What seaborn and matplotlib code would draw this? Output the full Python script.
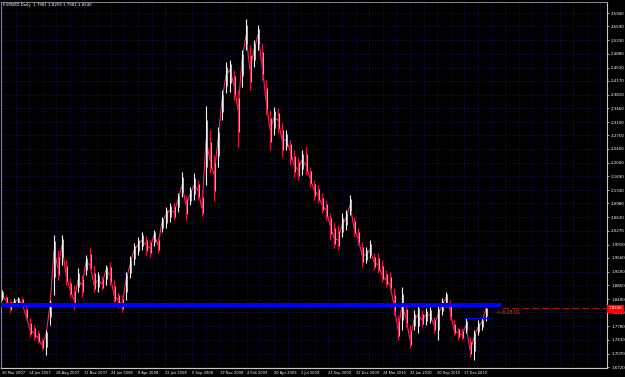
import numpy as np
import pandas as pd
import matplotlib
matplotlib.use("Agg")
import matplotlib.pyplot as plt
import seaborn as sns

# ---------------- data ----------------
chart_title = "EURNZD,Daily  1.7981 1.8259 1.7981 1.8246"
bar_step = 8  # bars between samples

high = [1.8726, 1.8595, 1.8465, 1.8517, 1.8543, 1.8543, 1.8335, 1.7996, 1.7814, 1.7684,
        1.7475, 1.7684, 1.8465, 2.0158, 1.9767, 2.0158, 1.9507, 1.9038, 1.8856, 1.9298,
        1.9116, 1.9637, 1.9845, 1.9377, 1.9194, 1.9090, 1.9377, 1.9455, 1.8986, 1.8673,
        1.8595, 1.9194, 1.9611, 1.9950, 2.0106, 2.0236, 2.0132, 2.0028, 2.0288, 2.0106,
        2.0627, 2.0887, 2.0992, 2.0992, 2.1252, 2.1799, 2.1200, 2.1408, 2.1773, 2.1591,
        2.1330, 2.3518, 2.2893, 2.2242, 2.2971, 2.3935, 2.4664, 2.4716, 2.4455, 2.3935,
        2.4976, 2.5784, 2.5107, 2.5237, 2.5627, 2.5159, 2.4195, 2.3414, 2.3492, 2.3466,
        2.3075, 2.2893, 2.2632, 2.2372, 2.2190, 2.2372, 2.2476, 2.1929, 2.1591, 2.1460,
        2.1252, 2.1070, 2.0731, 2.0497, 2.0418, 2.0731, 2.0809, 2.1200, 2.0627, 2.0340,
        1.9976, 1.9845, 2.0028, 1.9689, 1.9689, 1.9507, 1.9246, 1.9194, 1.8778, 1.8074,
        1.8804, 1.8387, 1.7814, 1.8205, 1.8387, 1.8205, 1.8257, 1.8283, 1.8022, 1.8335,
        1.8517, 1.8673, 1.8465, 1.7944, 1.7762, 1.7736, 1.7996, 1.7501, 1.7684, 1.7944,
        1.7996, 1.8259]
low = [1.8465, 1.8387, 1.8127, 1.8309, 1.8335, 1.8309, 1.7944, 1.7501, 1.7423, 1.7345,
       1.7163, 1.7033, 1.7814, 1.8595, 1.8986, 1.9377, 1.8856, 1.8543, 1.8205, 1.8673,
       1.8543, 1.9116, 1.9246, 1.8673, 1.8673, 1.8726, 1.8856, 1.8856, 1.8335, 1.8257,
       1.8153, 1.8465, 1.9038, 1.9377, 1.9637, 1.9767, 1.9637, 1.9585, 1.9872, 1.9689,
       2.0236, 2.0340, 2.0497, 2.0549, 2.0757, 2.1148, 2.0549, 2.0939, 2.1070, 2.1070,
       2.0653, 2.1460, 2.1773, 2.1044, 2.1929, 2.3153, 2.3856, 2.3882, 2.3674, 2.2450,
       2.4013, 2.4976, 2.3935, 2.4534, 2.4976, 2.4195, 2.3283, 2.2372, 2.2763, 2.2815,
       2.2190, 2.2372, 2.1981, 2.1669, 2.1591, 2.1721, 2.1721, 2.1408, 2.1070, 2.0992,
       2.0731, 2.0549, 2.0028, 1.9819, 1.9767, 2.0106, 2.0288, 2.0679, 2.0106, 1.9898,
       1.9325, 1.9429, 1.9559, 1.9246, 1.9168, 1.8934, 1.8804, 1.8726, 1.8074, 1.7423,
       1.7684, 1.7762, 1.7215, 1.7684, 1.7606, 1.7762, 1.7814, 1.7866, 1.7606, 1.7423,
       1.8074, 1.8283, 1.7944, 1.7554, 1.7423, 1.7423, 1.7606, 1.6980, 1.6902, 1.7554,
       1.7684, 1.7930]
close = [1.8569, 1.8465, 1.8335, 1.8413, 1.8465, 1.8387, 1.8048, 1.7684, 1.7606, 1.7475,
         1.7293, 1.7554, 1.8335, 1.9767, 1.9298, 1.9898, 1.9116, 1.8726, 1.8465, 1.8986,
         1.8856, 1.9455, 1.9377, 1.8856, 1.8986, 1.8882, 1.9246, 1.9116, 1.8595, 1.8465,
         1.8335, 1.8986, 1.9377, 1.9767, 1.9898, 2.0028, 1.9898, 1.9819, 2.0158, 1.9898,
         2.0497, 2.0679, 2.0809, 2.0757, 2.1070, 2.1460, 2.0939, 2.1200, 2.1460, 2.1330,
         2.0861, 2.2632, 2.2111, 2.1721, 2.2632, 2.3674, 2.4325, 2.4455, 2.4065, 2.3414,
         2.4716, 2.5367, 2.4455, 2.4976, 2.5367, 2.4586, 2.3674, 2.2893, 2.3205, 2.3153,
         2.2632, 2.2632, 2.2372, 2.1981, 2.1851, 2.2111, 2.1981, 2.1643, 2.1330, 2.1200,
         2.0939, 2.0809, 2.0418, 2.0080, 2.0028, 2.0418, 2.0601, 2.0939, 2.0340, 2.0080,
         1.9637, 1.9637, 1.9767, 1.9455, 1.9377, 1.9116, 1.8986, 1.8856, 1.8335, 1.7684,
         1.8335, 1.7996, 1.7423, 1.7944, 1.8074, 1.7944, 1.8074, 1.8074, 1.7814, 1.8074,
         1.8335, 1.8517, 1.8205, 1.7684, 1.7606, 1.7554, 1.7814, 1.7163, 1.7475, 1.7762,
         1.7892, 1.8246]

date_labels = ["30 Mar 2007", "14 Jun 2007", "28 Aug 2007", "11 Nov 2007", "24 Jan 2008",
               "8 Apr 2008", "22 Jun 2008", "5 Sep 2008", "19 Nov 2008", "4 Feb 2009",
               "20 Apr 2009", "3 Jul 2009", "23 Sep 2009", "22 Dec 2009", "24 Mar 2010",
               "22 Jun 2010", "20 Sep 2010", "17 Dec 2010"]
bars_per_date_label = 54.4

price_labels = ["2.5940", "2.5590", "2.5230", "2.4880", "2.4520", "2.4170", "2.3810",
                "2.3460", "2.3100", "2.2750", "2.2400", "2.2040", "2.1690", "2.1330",
                "2.0980", "2.0620", "2.0270", "1.9910", "1.9560", "1.9200", "1.8850",
                "1.8490", "1.8140", "1.7780", "1.7430", "1.7070", "1.6720"]

support_level = 1.8322
support_end_bar = 1000
range_level = 1.7996
range_start_bar = 926
range_end_bar = 974
bid_price = 1.8246
bid_label = "1.8246"
timer_text = "<--8:28:01"
timer_bar = 986

# ---------------- figure ----------------
sns.set_style("dark")
plt.rcParams['font.family'] = ['DejaVu Sans']

W, H = 625, 377
fig = plt.figure(figsize=(W / 100, H / 100), dpi=100, facecolor="black")
ax = fig.add_axes([1 / W, (H - 368) / H, 606 / W, 366 / H])
ax.set_facecolor("black")

n = len(close)
bars = np.arange(n) * bar_step
df = pd.DataFrame({"bar": bars, "high": high, "low": low, "close": close})
df["open"] = df["close"].shift(1).fillna(df["close"])
df["dir"] = np.where(df["close"] >= df["open"], "up", "down")

xlim = (-2, 1210)
ylim = (1.6694, 2.6227)
ax.set_xlim(*xlim)
ax.set_ylim(*ylim)

grid_col = "#1a1a80"
xgrid = np.arange(0, xlim[1], bars_per_date_label / 2)
for gx in xgrid:
    ax.axvline(gx, color=grid_col, lw=0.6, ls=(0, (1, 2.5)), zorder=0)
price_vals = [float(p) for p in price_labels]
for gy in price_vals:
    ax.axhline(gy, color=grid_col, lw=0.6, ls=(0, (1, 2.5)), zorder=0)

# bars
up = df[df["dir"] == "up"]
dn = df[df["dir"] == "down"]
sns.lineplot(data=df, x="bar", y="close", ax=ax, color="#e8305a", lw=0.8, zorder=2,
             legend=False)
ax.vlines(dn["bar"], dn["low"], dn["high"], color="#e0143c", lw=0.9, zorder=3)
ax.vlines(up["bar"], up["low"], up["high"], color="#f2f2f2", lw=0.8, zorder=3)
ax.vlines(df["bar"] + 2, df["close"] - (df["close"] - df["low"]) * 0.6,
          df["close"] + (df["high"] - df["close"]) * 0.6, color="#f7a0b4", lw=0.7, zorder=3)

# bid line (visible right of the support band)
ax.hlines(bid_price, support_end_bar, xlim[1], color="#a01818", lw=0.8, ls=(0, (6, 3)),
          zorder=4)
# support line (thick blue)
ax.hlines(support_level, xlim[0], support_end_bar, color="#0000ff", lw=2.9, zorder=5)
ax.hlines(range_level, range_start_bar, range_end_bar, color="#0000ff", lw=0.9, zorder=5)

ax.text(timer_bar, bid_price - 0.0095, timer_text, color="#c0602a", fontsize=3.3,
        ha="left", va="center", zorder=6)

# title
fig.text(3 / W, 1 - 5 / H, chart_title, color="white", fontsize=2.8, ha="left", va="center")

# axes styling
for s in ["left", "top"]:
    ax.spines[s].set_color("#808080")
    ax.spines[s].set_linewidth(0.8)
for s in ["right", "bottom"]:
    ax.spines[s].set_color("#c8c8c8")
    ax.spines[s].set_linewidth(0.8)

ax.yaxis.tick_right()
ax.set_yticks(price_vals)
ax.set_yticklabels(price_labels)
ax.tick_params(axis="y", colors="#e0e0e0", labelsize=2.9, length=1.5, width=0.5, pad=1.5,
               labelcolor="white")
xt = np.arange(len(date_labels)) * bars_per_date_label
ax.set_xticks(xt)
ax.set_xticklabels(date_labels, ha="left")
ax.tick_params(axis="x", colors="#e0e0e0", labelsize=2.6, length=1.5, width=0.5, pad=1.0,
               labelcolor="white", direction="out")
ax.grid(False)
ax.set_xlabel("")
ax.set_ylabel("")

# current price box on the price scale
ax.text(1.0025, bid_price, bid_label, transform=ax.get_yaxis_transform(), color="white",
        fontsize=2.9, ha="left", va="center", zorder=10,
        bbox=dict(boxstyle="square,pad=0.3", fc="#ff0000", ec="#ff0000"))

fig.savefig("out.png", dpi=100, facecolor="black")
